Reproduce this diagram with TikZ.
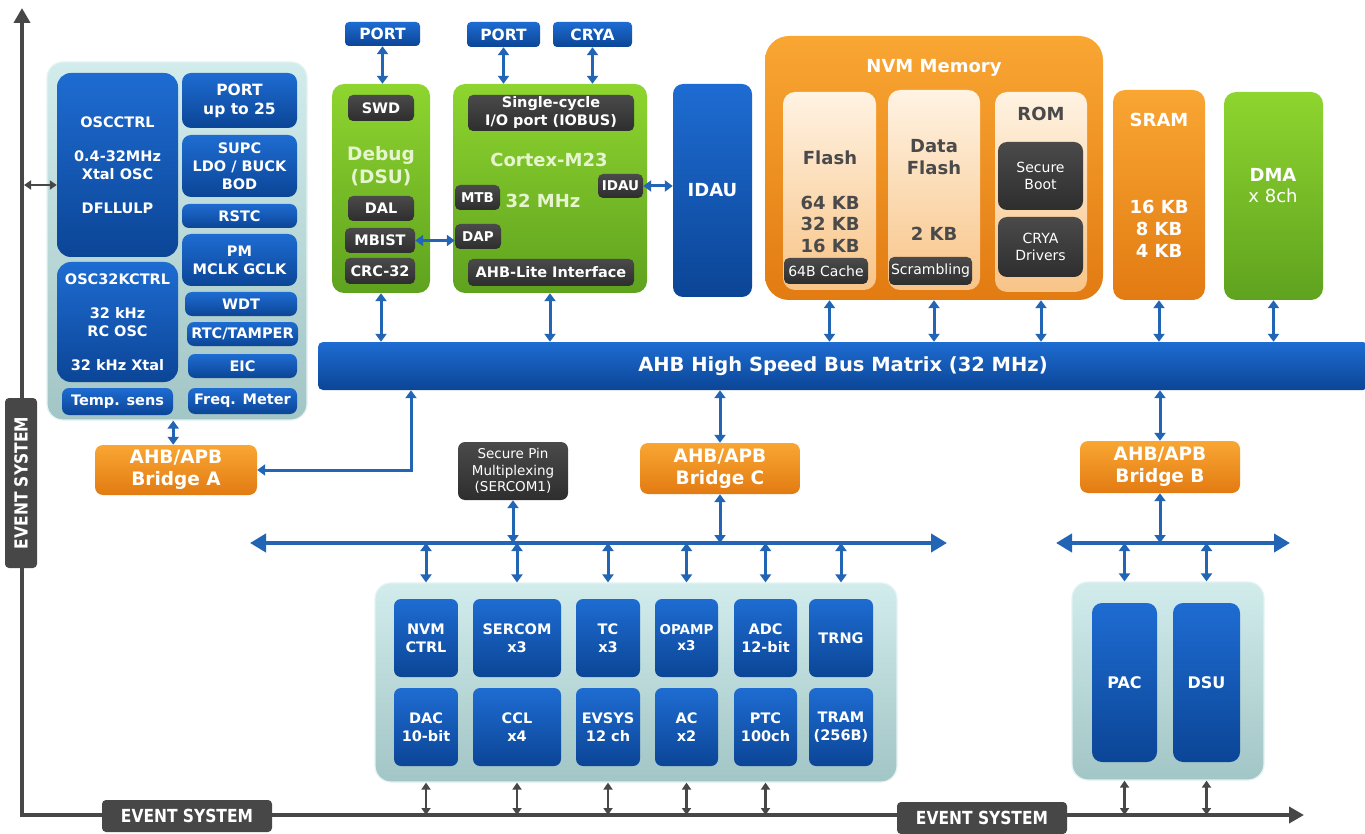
\documentclass[tikz,border=0pt]{standalone}
\usepackage{fontspec}
\setmainfont{DejaVu Sans}
\newfontfamily\evfont[FakeStretch=0.86]{DejaVu Sans}
\usepackage{tikz}
\usetikzlibrary{positioning,arrows.meta,backgrounds}

\definecolor{bluetop}{HTML}{1E6CD2}
\definecolor{bluebot}{HTML}{0B4596}
\definecolor{tealtop}{HTML}{D2ECEC}
\definecolor{tealbot}{HTML}{A2C5C5}
\definecolor{tealline}{HTML}{E4F3F3}
\definecolor{orgtop}{HTML}{F9A633}
\definecolor{orgbot}{HTML}{E27B12}
\definecolor{grntop}{HTML}{8ED52F}
\definecolor{grnbot}{HTML}{5FA21F}
\definecolor{peachtop}{HTML}{FFF3E3}
\definecolor{peachbot}{HTML}{F8C487}
\definecolor{peachtext}{HTML}{4A4A4A}
\definecolor{darktop}{HTML}{4A4A4A}
\definecolor{darkbot}{HTML}{2E2E2E}
\definecolor{greentext}{HTML}{E6F5CF}
\definecolor{linkblue}{HTML}{2265B5}
\definecolor{evgray}{HTML}{474747}

\begin{document}
\begin{tikzpicture}[
  x=1pt, y=-1pt,
  every node/.style={inner sep=0pt, align=center, text=white, font=\bfseries\fontsize{14.5}{18}\selectfont},
  rect/.style args={#1/#2/#3/#4}{at={({(#1+#3)/2},{(#2+#4)/2})}, minimum width={(#3-#1)*1pt}, minimum height={(#4-#2)*1pt}},
  blubox/.style={rounded corners=7pt, top color=bluetop, bottom color=bluebot},
  topbox/.style={blubox, rounded corners=4pt, font=\bfseries\fontsize{15.5}{18}\selectfont},
  panel/.style={rounded corners=16pt, top color=tealtop, bottom color=tealbot, draw=tealline, line width=1.2pt},
  orgbox/.style={rounded corners=8pt, top color=orgtop, bottom color=orgbot, font=\bfseries\fontsize{18.5}{22}\selectfont},
  grnbox/.style={rounded corners=12pt, top color=grntop, bottom color=grnbot},
  peachbox/.style={rounded corners=12pt, top color=peachtop, bottom color=peachbot},
  darkbox/.style={rounded corners=5pt, top color=darktop, bottom color=darkbot},
  headtxt/.style={font=\bfseries\fontsize{18}{22}\selectfont},
  memtxt/.style={headtxt, text=peachtext},
  regtxt/.style={font=\fontsize{14}{17}\selectfont},
  smalltxt/.style={font=\bfseries\fontsize{13.5}{16}\selectfont},
  evlabel/.style={rounded corners=4pt, fill=evgray, minimum width=170pt, minimum height=32pt, font=\evfont\bfseries\fontsize{18}{18}\selectfont},
  link/.style={draw=linkblue, line width=3pt, arrows={Triangle[length=8pt,width=11pt]-Triangle[length=8pt,width=11pt]}},
  busline/.style={draw=linkblue, line width=4pt, arrows={Triangle[length=16pt,width=18pt]-Triangle[length=16pt,width=18pt]}},
  evline/.style={draw=evgray, line width=4.5pt, arrows={Triangle[length=15pt,width=16pt]-Triangle[length=15pt,width=16pt]}},
  evlink/.style={draw=evgray, line width=2.4pt, arrows={Triangle[length=7pt,width=9pt]-Triangle[length=7pt,width=9pt]}},
]
\useasboundingbox (0,0) rectangle (1365,834);

% event system
\coordinate (evtop) at (22,8);
\coordinate (evcorner) at (22,815);
\coordinate (evend) at (1304,815);
\draw[evline] (evtop) -- (evcorner) -- (evend);
\node[evlabel, rotate=90] (evleft) at (21,483) {EVENT SYSTEM};
\node[evlabel] (evbot1) at (187,816) {EVENT SYSTEM};
\node[evlabel] (evbot2) at (982,818) {EVENT SYSTEM};

% system controllers
\node[panel, rect=47/62/307/420] (sysp) {};
\node[blubox, rounded corners=14pt, rect=57/73/178/257] (osc) {OSCCTRL\\[16pt]0.4-32MHz\\Xtal OSC\\[16pt]DFLLULP};
\node[blubox, rounded corners=14pt, rect=57/262/178/382] (osck) {OSC32KCTRL\\[16pt]32 kHz\\RC OSC\\[16pt]32 kHz Xtal};
\node[blubox, rect=62/388/173/415] (temp) {Temp. sens};
\node[blubox, rounded corners=9pt, rect=182/73/297/128, font=\bfseries\fontsize{15.5}{19}\selectfont] (port25) {PORT\\up to 25};
\node[blubox, rounded corners=9pt, rect=182/135/297/197] (supc) {SUPC\\LDO / BUCK\\BOD};
\node[blubox, rect=182/204/297/228] (rstc) {RSTC};
\node[blubox, rounded corners=9pt, rect=182/234/297/286] (pm) {PM\\MCLK GCLK};
\node[blubox, rect=185/292/297/316] (wdt) {WDT};
\node[blubox, rect=187/322/298/346] (rtc) {RTC/TAMPER};
\node[blubox, rect=188/354/297/378] (eic) {EIC};
\node[blubox, rect=188/388/297/414] (freq) {Freq. Meter};
\coordinate (evosc) at (24,185);
\draw[evlink] (evosc) -- (evosc -| osc.west);

% bus matrix and bridge A
\node[blubox, rounded corners=5pt, rect=318/342/1368/390, font=\bfseries\fontsize{19.5}{22}\selectfont] (bus) {AHB High Speed Bus Matrix (32 MHz)};
\node[orgbox, rect=95/445/257/495] (brA) {AHB/APB\\Bridge A};
\draw[link] (temp.east |- sysp.south) -- (temp.east |- brA.north);
\coordinate (tapA) at (411,0);
\draw[link] (tapA |- bus.south) |- (brA.east);

% debug and core
\node[topbox, rect=345/22/420/46] (port1) {PORT};
\node[topbox, rect=467/22/540/47] (port2) {PORT};
\node[topbox, rect=553/22/632/47] (crya) {CRYA};
\node[grnbox, rect=332/84/430/293] (dbg) {};
\node[grnbox, rect=453/84/647/293] (cortex) {};
\node[darkbox, rect=348/95/414/121] (swd) {SWD};
\node[headtxt, text=greentext, font=\bfseries\fontsize{18.5}{23}\selectfont] (dbgt) at (381,166) {Debug\\(DSU)};
\node[darkbox, rect=348/196/414/221] (dal) {DAL};
\node[darkbox, rect=345/228/415/253] (mbist) {MBIST};
\node[darkbox, rect=345/258/415/284] (crc) {CRC-32};
\node[darkbox, rect=468/95/634/131] (iobus) {Single-cycle\\I/O port (IOBUS)};
\node[headtxt, text=greentext] (cortt) at (549,160) {Cortex-M23};
\node[darkbox, smalltxt, rect=598/174/643/198] (idaus) {IDAU};
\node[darkbox, smalltxt, rect=455/185/500/210] (mtb) {MTB};
\node[headtxt, text=greentext] (mhz) at (543,201) {32 MHz};
\node[darkbox, smalltxt, rect=455/224/501/249] (dap) {DAP};
\node[darkbox, rect=468/259/634/286] (ahbl) {AHB-Lite Interface};
\node[blubox, rounded corners=10pt, headtxt, rect=673/84/752/297] (idau) {IDAU};
\draw[link] (port1.south) -- (port1.south |- dbg.north);
\draw[link] (port2.south) -- (port2.south |- cortex.north);
\draw[link] (crya.south) -- (crya.south |- cortex.north);
\draw[link] (mbist.east) -- (mbist.east -| dap.west);
\draw[link] (idaus.east) -- (idaus.east -| idau.west);

% memories
\node[orgbox, rounded corners=24pt, rect=765/36/1103/300] (nvm) {};
\node[headtxt] (nvmt) at (934,68) {NVM Memory};
\node[peachbox, rect=783/92/876/290] (flash) {};
\node[memtxt] (flasht) at (830,158) {Flash};
\node[memtxt, font=\bfseries\fontsize{18}{21.5}\selectfont] (flashkb) at (830,224) {64 KB\\32 KB\\16 KB};
\node[darkbox, regtxt, rect=784/258/868/284] (cache) {64B Cache};
\node[peachbox, rect=888/90/980/290] (dflash) {};
\node[memtxt] (dflasht) at (934,157) {Data\\Flash};
\node[memtxt] (dflashkb) at (934,234) {2 KB};
\node[darkbox, regtxt, rect=889/257/972/285] (scramb) {Scrambling};
\node[peachbox, rect=995/92/1087/292] (rom) {};
\node[memtxt] (romt) at (1041,114) {ROM};
\node[darkbox, rounded corners=9pt, regtxt, rect=998/142/1083/210] (sboot) {Secure\\Boot};
\node[darkbox, rounded corners=9pt, regtxt, rect=998/217/1083/277] (cdrv) {CRYA\\Drivers};
\node[orgbox, rounded corners=12pt, rect=1113/90/1205/300] (sram) {};
\node[headtxt] (sramt) at (1159,120) {SRAM};
\node[headtxt] (sramkb) at (1159,229) {16 KB\\8 KB\\4 KB};
\node[grnbox, rect=1224/92/1323/300] (dma) {};
\node[headtxt] (dmat) at (1273,175) {DMA};
\node[headtxt, font=\fontsize{18}{22}\selectfont] (dmach) at (1273,196) {x 8ch};

% links to bus matrix
\draw[link] (dbg.south) -- (dbg.south |- bus.north);
\draw[link] (cortex.south) -- (cortex.south |- bus.north);
\draw[link] (flash.south |- nvm.south) -- (flash.south |- bus.north);
\draw[link] (dflash.south |- nvm.south) -- (dflash.south |- bus.north);
\draw[link] (rom.south |- nvm.south) -- (rom.south |- bus.north);
\draw[link] (sram.south) -- (sram.south |- bus.north);
\draw[link] (dma.south) -- (dma.south |- bus.north);

% bridge C and peripherals
\node[orgbox, rect=640/443/800/494] (brC) {AHB/APB\\Bridge C};
\node[darkbox, rounded corners=7pt, rect=458/442/568/500, font=\fontsize{13.5}{16.5}\selectfont] (spm) {Secure Pin\\Multiplexing\\(SERCOM1)};
\coordinate (pbL) at (250,543);
\coordinate (pbR) at (947,543);
\draw[busline] (pbL) -- (pbR);
\draw[link] (brC.north |- bus.south) -- (brC.north);
\draw[link] (brC.south) -- (brC.south |- pbL);
\draw[link] (spm.south) -- (spm.south |- pbL);

\node[panel, rect=375/583/897/782] (pper) {};
\node[blubox, rect=394/599/458/677] (nvmc) {NVM\\CTRL};
\node[blubox, rect=473/599/561/677] (serc) {SERCOM\\x3};
\node[blubox, rect=576/599/640/677] (tc) {TC\\x3};
\node[blubox, smalltxt, rect=655/599/718/677] (opamp) {OPAMP\\x3};
\node[blubox, rect=734/599/797/677] (adc) {ADC\\12-bit};
\node[blubox, rect=809/599/873/677] (trng) {TRNG};
\node[blubox, rect=394/688/458/766] (dac) {DAC\\10-bit};
\node[blubox, rect=473/688/561/766] (ccl) {CCL\\x4};
\node[blubox, rect=576/688/640/766] (evsys) {EVSYS\\12 ch};
\node[blubox, rect=655/688/718/766] (ac) {AC\\x2};
\node[blubox, rect=734/688/797/766] (ptc) {PTC\\100ch};
\node[blubox, rect=809/688/873/766] (tram) {TRAM\\(256B)};
\foreach \p in {nvmc,serc,tc,opamp,adc,trng}
  \draw[link] (\p.north |- pbL) -- (\p.north |- pper.north);
\foreach \p in {dac,ccl,evsys,ac,ptc}
  \draw[evlink] (\p.south |- pper.south) -- (\p.south |- evcorner);

% bridge B
\node[orgbox, rect=1080/441/1240/493] (brB) {AHB/APB\\Bridge B};
\coordinate (rbL) at (1056,543);
\coordinate (rbR) at (1290,543);
\draw[busline] (rbL) -- (rbR);
\draw[link] (brB.north |- bus.south) -- (brB.north);
\draw[link] (brB.south) -- (brB.south |- rbL);
\node[panel, rect=1072/582/1264/780] (rpan) {};
\node[blubox, rounded corners=10pt, font=\bfseries\fontsize{16}{18}\selectfont, rect=1092/603/1157/762] (pac) {PAC};
\node[blubox, rounded corners=10pt, font=\bfseries\fontsize{16}{18}\selectfont, rect=1173/603/1240/762] (dsu) {DSU};
\draw[link] (pac.north |- rbL) -- (pac.north |- rpan.north);
\draw[link] (dsu.north |- rbL) -- (dsu.north |- rpan.north);
\draw[evlink] (pac.south |- rpan.south) -- (pac.south |- evcorner);
\draw[evlink] (dsu.south |- rpan.south) -- (dsu.south |- evcorner);
\end{tikzpicture}
\end{document}
